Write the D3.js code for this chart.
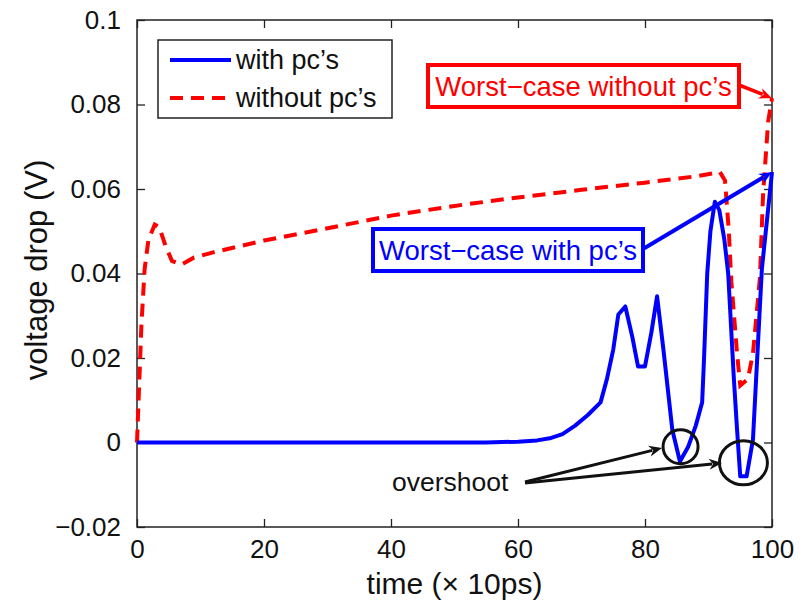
<!DOCTYPE html>
<html>
<head>
<meta charset="utf-8">
<script src="https://cdn.jsdelivr.net/npm/d3@7"></script>
<style>
  body { margin: 0; background: #fff; }
  text { font-family: "Liberation Sans", Arial, sans-serif; }
</style>
</head>
<body>
<svg id="chart" width="803" height="600"></svg>
<script>
// time axis (x 10ps)
var timeWith = [0, 20, 40, 55, 60, 63, 65, 67, 69, 71, 73, 74, 75, 75.8, 76.9, 78, 78.9, 80, 81, 81.9, 82.9, 84.3, 85.5, 86.8, 88, 89, 89.3, 89.8, 90.3, 91, 91.7, 92.5, 93.1, 94, 94.5, 95, 96, 97, 98.4, 100];
var dropWith = [0, 0, 0, 0, 0.0002, 0.0005, 0.001, 0.002, 0.004, 0.0065, 0.0095, 0.015, 0.022, 0.0303, 0.0322, 0.025, 0.018, 0.018, 0.026, 0.0346, 0.022, 0.003, -0.0045, -0.001, 0.004, 0.0095, 0.02, 0.040, 0.05, 0.057, 0.055, 0.048, 0.040, 0.015, 0.003, -0.008, -0.008, 0.0007, 0.041, 0.064];

var timeWithout = [0, 0.3, 0.7, 1.2, 1.8, 2.8, 3.5, 4.5, 5.5, 7, 9, 12, 20, 30, 40, 50, 60, 70, 80, 88, 91.8, 92.6, 93.2, 93.6, 94.5, 95, 96.2, 97, 98.1, 98.6, 99.4, 100];
var dropWithout = [0, 0.012, 0.028, 0.041, 0.048, 0.0516, 0.051, 0.0465, 0.043, 0.0421, 0.0438, 0.045, 0.0478, 0.0507, 0.0537, 0.056, 0.058, 0.0598, 0.0615, 0.063, 0.064, 0.062, 0.05, 0.038, 0.021, 0.0135, 0.015, 0.021, 0.039, 0.059, 0.076, 0.0815];

var xTicks = [0, 20, 40, 60, 80, 100];
var yTicks = [-0.02, 0, 0.02, 0.04, 0.06, 0.08, 0.1];
var seriesNames = ["with pc\u2019s", "without pc\u2019s"];

var svg = d3.select("#chart");
var x = d3.scaleLinear().domain([0, 100]).range([137, 772]);
var y = d3.scaleLinear().domain([-0.02, 0.1]).range([527, 20]);

function fmtY(d) { return d === 0 ? "0" : (d === 0.1 ? "0.1" : d3.format(".2f")(d)).replace("-", "\u2212"); }

// axes (box with inner ticks, MATLAB style)
var axisColor = "#222";
svg.append("g").attr("transform", "translate(0,527)")
  .call(d3.axisBottom(x).tickValues(xTicks).tickSizeInner(-8).tickSizeOuter(0).tickPadding(13).tickFormat(d3.format("d")))
  .call(function(g) {
    g.select(".domain").remove();
    g.selectAll("line").attr("stroke", axisColor).attr("stroke-width", 1.3);
    g.selectAll("text").attr("font-size", 26).attr("fill", "#111").attr("font-family", "Liberation Sans, Arial, sans-serif");
  });
svg.append("g").attr("transform", "translate(0,20)")
  .call(d3.axisTop(x).tickValues(xTicks).tickSizeInner(-8).tickSizeOuter(0).tickFormat(""))
  .call(function(g) { g.select(".domain").remove(); g.selectAll("line").attr("stroke", axisColor).attr("stroke-width", 1.3); });
svg.append("g").attr("transform", "translate(137,0)")
  .call(d3.axisLeft(y).tickValues(yTicks).tickSizeInner(-8).tickSizeOuter(0).tickPadding(16).tickFormat(fmtY))
  .call(function(g) {
    g.select(".domain").remove();
    g.selectAll("line").attr("stroke", axisColor).attr("stroke-width", 1.3);
    g.selectAll("text").attr("font-size", 26).attr("fill", "#111").attr("font-family", "Liberation Sans, Arial, sans-serif");
  });
svg.append("g").attr("transform", "translate(772,0)")
  .call(d3.axisRight(y).tickValues(yTicks).tickSizeInner(-8).tickSizeOuter(0).tickFormat(""))
  .call(function(g) { g.select(".domain").remove(); g.selectAll("line").attr("stroke", axisColor).attr("stroke-width", 1.3); });

svg.append("rect").attr("x", 137).attr("y", 20).attr("width", 635).attr("height", 507)
  .attr("fill", "none").attr("stroke", axisColor).attr("stroke-width", 1.5);

// axis labels
svg.append("text").attr("x", 454.5).attr("y", 594).attr("text-anchor", "middle")
  .attr("font-size", 30).attr("fill", "#111").text("time (\u00d7 10ps)");
svg.append("text").attr("transform", "translate(47,270) rotate(-90)").attr("text-anchor", "middle")
  .attr("font-size", 31).attr("fill", "#111").text("voltage drop (V)");

// series
var line = d3.line().x(function(d) { return x(d[0]); }).y(function(d) { return y(d[1]); });
var withData = d3.zip(timeWith, dropWith);
var withoutData = d3.zip(timeWithout, dropWithout);

var plot = svg.append("g");
plot.append("path").datum(withoutData).attr("d", line).attr("fill", "none")
  .attr("stroke", "#ff0000").attr("stroke-width", 4).attr("stroke-dasharray", "13,8");
plot.append("path").datum(withData).attr("d", line).attr("fill", "none")
  .attr("stroke", "#0000ff").attr("stroke-width", 4).attr("stroke-linejoin", "round");

// legend
var legend = svg.append("g");
legend.append("rect").attr("x", 158).attr("y", 40).attr("width", 234).attr("height", 78)
  .attr("fill", "#fff").attr("stroke", axisColor).attr("stroke-width", 1.5);
[["#0000ff", null], ["#ff0000", "13,8"]].forEach(function(s, i) {
  var ly = 60 + i * 38;
  legend.append("line").attr("x1", 170).attr("x2", 231).attr("y1", ly).attr("y2", ly)
    .attr("stroke", s[0]).attr("stroke-width", 4).attr("stroke-dasharray", s[1]);
  legend.append("text").attr("x", 236).attr("y", ly + 9).attr("font-size", 27).attr("fill", "#111").text(seriesNames[i]);
});

// arrows
function arrow(x1, y1, x2, y2, color, sw) {
  var g = svg.append("g");
  var a = Math.atan2(y2 - y1, x2 - x1), len = 13, w = 5.5;
  var bx = x2 - len * Math.cos(a), by = y2 - len * Math.sin(a);
  var px = -Math.sin(a) * w, py = Math.cos(a) * w;
  g.append("line").attr("x1", x1).attr("y1", y1).attr("x2", bx + 3 * Math.cos(a)).attr("y2", by + 3 * Math.sin(a))
    .attr("stroke", color).attr("stroke-width", sw);
  g.append("path").attr("d", "M" + x2 + "," + y2 + "L" + (bx + px) + "," + (by + py) +
      "L" + (bx + 4 * Math.cos(a)) + "," + (by + 4 * Math.sin(a)) + "L" + (bx - px) + "," + (by - py) + "Z")
    .attr("fill", color);
  return g;
}

// text boxes
function textBox(bx, by, bw, bh, label, color) {
  svg.append("rect").attr("x", bx).attr("y", by).attr("width", bw).attr("height", bh)
    .attr("fill", "#fff").attr("stroke", color).attr("stroke-width", 4);
  svg.append("text").attr("x", bx + bw / 2).attr("y", by + bh / 2 + 10).attr("text-anchor", "middle")
    .attr("font-size", 27.5).attr("fill", color).text(label);
}

arrow(739, 85, x(100), y(0.0815), "#ff0000", 3.5);
textBox(428, 65, 311, 42, "Worst\u2212case without pc\u2019s", "#ff0000");
arrow(643, 249, x(100), y(0.064), "#0000ff", 4);
textBox(373, 229, 270, 42, "Worst\u2212case with pc\u2019s", "#0000ff");

// overshoot circles
svg.append("ellipse").attr("cx", x(85.6)).attr("cy", y(-0.001)).attr("rx", 17.5).attr("ry", 17)
  .attr("fill", "none").attr("stroke", "#111").attr("stroke-width", 3);
svg.append("ellipse").attr("cx", x(95.5)).attr("cy", y(-0.0048)).attr("rx", 24).attr("ry", 22)
  .attr("fill", "none").attr("stroke", "#111").attr("stroke-width", 3);
arrow(525, 482, 662, 448, "#111", 3);
arrow(525, 483, 722, 463, "#111", 3);
svg.append("text").attr("x", 392).attr("y", 491).attr("font-size", 26.5).attr("fill", "#111").text("overshoot");
</script>
</body>
</html>
